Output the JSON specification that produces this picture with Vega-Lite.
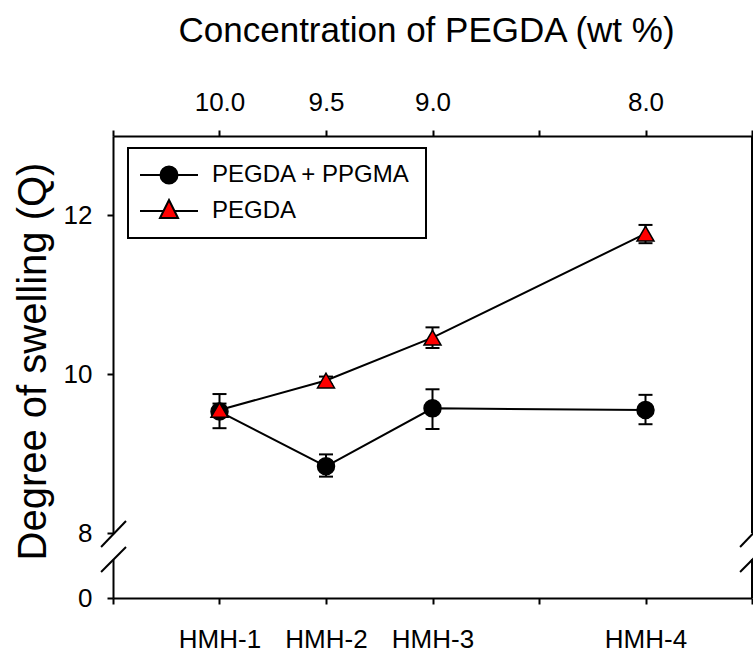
{
  "$schema": "https://vega.github.io/schema/vega-lite/v6.json",
  "autosize": {"type": "pad"},
  "padding": {"left": 12, "top": 13, "right": 0, "bottom": 0},
  "background": "white",
  "bounds": "flush",
  "spacing": 26,
  "config": {
    "view": {"stroke": null},
    "font": "Liberation Sans",
    "legend": {"strokeWidth": 2},
    "axis": {
      "domainColor": "black", "domainWidth": 2, "tickColor": "black", "tickWidth": 2, "tickSize": 6,
      "labelFont": "Liberation Sans", "labelFontSize": 26, "labelColor": "black", "grid": false,
      "titleFont": "Liberation Sans", "titleColor": "black", "titleFontWeight": "normal", "labelOverlap": false
    }
  },
  "data": {"values": [
    {"sample": "HMH-1", "conc": 10.0, "series": "PEGDA + PPGMA", "q": 9.53, "lo": 9.32, "hi": 9.75},
    {"sample": "HMH-2", "conc": 9.5, "series": "PEGDA + PPGMA", "q": 8.84, "lo": 8.71, "hi": 8.99},
    {"sample": "HMH-3", "conc": 9.0, "series": "PEGDA + PPGMA", "q": 9.57, "lo": 9.31, "hi": 9.81},
    {"sample": "HMH-4", "conc": 8.0, "series": "PEGDA + PPGMA", "q": 9.55, "lo": 9.37, "hi": 9.74},
    {"sample": "HMH-1", "conc": 10.0, "series": "PEGDA", "q": 9.55, "lo": 9.47, "hi": 9.63},
    {"sample": "HMH-2", "conc": 9.5, "series": "PEGDA", "q": 9.92, "lo": 9.87, "hi": 9.97},
    {"sample": "HMH-3", "conc": 9.0, "series": "PEGDA", "q": 10.46, "lo": 10.33, "hi": 10.59},
    {"sample": "HMH-4", "conc": 8.0, "series": "PEGDA", "q": 11.77, "lo": 11.65, "hi": 11.88}
  ]},
  "vconcat": [
    {
      "width": 639,
      "height": 397,
      "resolve": {"scale": {"shape": "independent", "fill": "independent", "stroke": "independent"}, "legend": {"shape": "independent", "fill": "independent", "stroke": "independent"}},
      "layer": [
        {
          "mark": {"type": "rule", "color": "black", "strokeWidth": 2},
          "encoding": {
            "x": {"field": "conc", "type": "quantitative",
              "scale": {"domain": [7.5, 10.5], "reverse": true, "nice": false, "zero": false},
              "axis": {"orient": "top", "values": [10.5, 10, 9.5, 9, 8.5, 8, 7.5],
                "labelExpr": "indexof([10, 9.5, 9, 8], datum.value) >= 0 ? format(datum.value, '.1f') : ''",
                "labelPadding": 15,
                "title": "Concentration of PEGDA (wt %)", "titleFontSize": 35,
                "titleX": 65, "titleY": -95, "titleAlign": "left", "titleBaseline": "alphabetic", "titleAngle": 0}},
            "y": {"field": "lo", "type": "quantitative",
              "scale": {"domain": [8, 13], "nice": false, "zero": false},
              "axis": {"values": [8, 10, 12], "format": "d", "labelPadding": 15,
                "title": "Degree of swelling (Q)", "titleFontSize": 40,
                "titleX": -68, "titleY": 424, "titleAlign": "left", "titleBaseline": "alphabetic", "titleAngle": 270}},
            "y2": {"field": "hi"}
          }
        },
        {
          "mark": {"type": "tick", "orient": "horizontal", "color": "black", "size": 14, "thickness": 2, "opacity": 1},
          "encoding": {
            "x": {"field": "conc", "type": "quantitative"},
            "y": {"field": "lo", "type": "quantitative"}
          }
        },
        {
          "mark": {"type": "tick", "orient": "horizontal", "color": "black", "size": 14, "thickness": 2, "opacity": 1},
          "encoding": {
            "x": {"field": "conc", "type": "quantitative"},
            "y": {"field": "hi", "type": "quantitative"}
          }
        },
        {
          "mark": {"type": "line", "color": "black", "strokeWidth": 2},
          "encoding": {
            "x": {"field": "conc", "type": "quantitative"},
            "y": {"field": "q", "type": "quantitative"},
            "detail": {"field": "series"}
          }
        },
        {
          "mark": {"type": "point", "filled": true, "stroke": "black", "strokeWidth": 1.5, "opacity": 1, "size": 289},
          "encoding": {
            "x": {"field": "conc", "type": "quantitative"},
            "y": {"field": "q", "type": "quantitative"},
            "fill": {"field": "series", "type": "nominal",
              "scale": {"domain": ["PEGDA + PPGMA", "PEGDA"], "range": ["black", "#ff0000"]},
              "legend": null},
            "shape": {"field": "series", "type": "nominal",
              "scale": {"domain": ["PEGDA + PPGMA", "PEGDA"], "range": ["circle", "triangle-up"]},
              "legend": null}
          }
        },
        {
          "mark": {"type": "point", "filled": true, "strokeWidth": 2, "opacity": 0, "size": 289},
          "encoding": {
            "x": {"field": "conc", "type": "quantitative"},
            "y": {"field": "q", "type": "quantitative"},
            "fill": {"field": "series", "type": "nominal",
              "scale": {"domain": ["PEGDA + PPGMA", "PEGDA"], "range": ["black", "#ff0000"]},
              "legend": {
                "orient": "none", "legendX": 15, "legendY": 12, "title": null,
                "strokeColor": "black", "padding": 15, "rowPadding": 8,
                "labelFont": "Liberation Sans", "labelFontSize": 24, "labelColor": "black",
                "symbolSize": 289, "symbolOffset": 14, "labelOffset": 31, "labelLimit": 400,
                "symbolOpacity": 1, "symbolStrokeWidth": 2}},
            "stroke": {"field": "series", "type": "nominal",
              "scale": {"domain": ["PEGDA + PPGMA", "PEGDA"], "range": ["black", "black"]},
              "legend": {
                "orient": "none", "legendX": 15, "legendY": 12, "title": null,
                "strokeColor": "black", "padding": 15, "rowPadding": 8,
                "labelFont": "Liberation Sans", "labelFontSize": 24, "labelColor": "black",
                "symbolSize": 289, "symbolOffset": 14, "labelOffset": 31, "labelLimit": 400,
                "symbolOpacity": 1, "symbolStrokeWidth": 2}},
            "shape": {"field": "series", "type": "nominal",
              "scale": {"domain": ["PEGDA + PPGMA", "PEGDA"],
                "range": ["M-3.41,0H-1M1,0H3.41M-1,0A1,1 0 1,0 1,0A1,1 0 1,0 -1,0Z", "M-3.41,0H-0.65M0.65,0H3.41M0,-1.29L1.06,0.82L-1.06,0.82Z"]},
              "legend": {
                "orient": "none", "legendX": 15, "legendY": 12, "title": null,
                "strokeColor": "black", "padding": 15, "rowPadding": 8,
                "labelFont": "Liberation Sans", "labelFontSize": 24, "labelColor": "black",
                "symbolSize": 289, "symbolOffset": 14, "labelOffset": 31, "labelLimit": 400,
                "symbolOpacity": 1, "symbolStrokeWidth": 2}}
          }
        },
        {
          "data": {"values": [{}]},
          "mark": {"type": "rule", "color": "black", "strokeWidth": 2},
          "encoding": {"x": {"datum": 7.5, "type": "quantitative"}}
        },
        {
          "data": {"values": [{}]},
          "mark": {"type": "rule", "color": "black", "strokeWidth": 2},
          "encoding": {
            "x": {"datum": 10.556, "type": "quantitative"}, "x2": {"datum": 10.439},
            "y": {"datum": 7.824, "type": "quantitative"}, "y2": {"datum": 8.151}
          }
        },
        {
          "data": {"values": [{}]},
          "mark": {"type": "rule", "color": "black", "strokeWidth": 2},
          "encoding": {
            "x": {"datum": 7.556, "type": "quantitative"}, "x2": {"datum": 7.439},
            "y": {"datum": 7.824, "type": "quantitative"}, "y2": {"datum": 8.151}
          }
        }
      ]
    },
    {
      "width": 639,
      "height": 39,
      "data": {"values": [{}]},
      "layer": [
        {
          "mark": {"type": "rule", "color": "black", "strokeWidth": 2},
          "encoding": {
            "x": {"datum": 7.5, "type": "quantitative",
              "scale": {"domain": [7.5, 10.5], "reverse": true, "nice": false, "zero": false},
              "axis": {"orient": "bottom", "values": [10.5, 10, 9.5, 9, 8.5, 8, 7.5],
                "labelExpr": "datum.value == 10 ? 'HMH-1' : datum.value == 9.5 ? 'HMH-2' : datum.value == 9 ? 'HMH-3' : datum.value == 8 ? 'HMH-4' : ''",
                "labelPadding": 22, "title": null}}
          }
        },
        {
          "mark": {"type": "rule", "color": "black", "strokeWidth": 2},
          "encoding": {
            "x": {"datum": 10.556, "type": "quantitative"}, "x2": {"datum": 10.439},
            "y": {"datum": 0.667, "type": "quantitative",
              "scale": {"domain": [0, 1], "nice": false, "zero": false},
              "axis": {"values": [0], "labelPadding": 15, "title": null}},
            "y2": {"datum": 1.308}
          }
        },
        {
          "mark": {"type": "rule", "color": "black", "strokeWidth": 2},
          "encoding": {
            "x": {"datum": 7.556, "type": "quantitative"}, "x2": {"datum": 7.439},
            "y": {"datum": 0.667, "type": "quantitative"}, "y2": {"datum": 1.308}
          }
        }
      ]
    }
  ]
}
